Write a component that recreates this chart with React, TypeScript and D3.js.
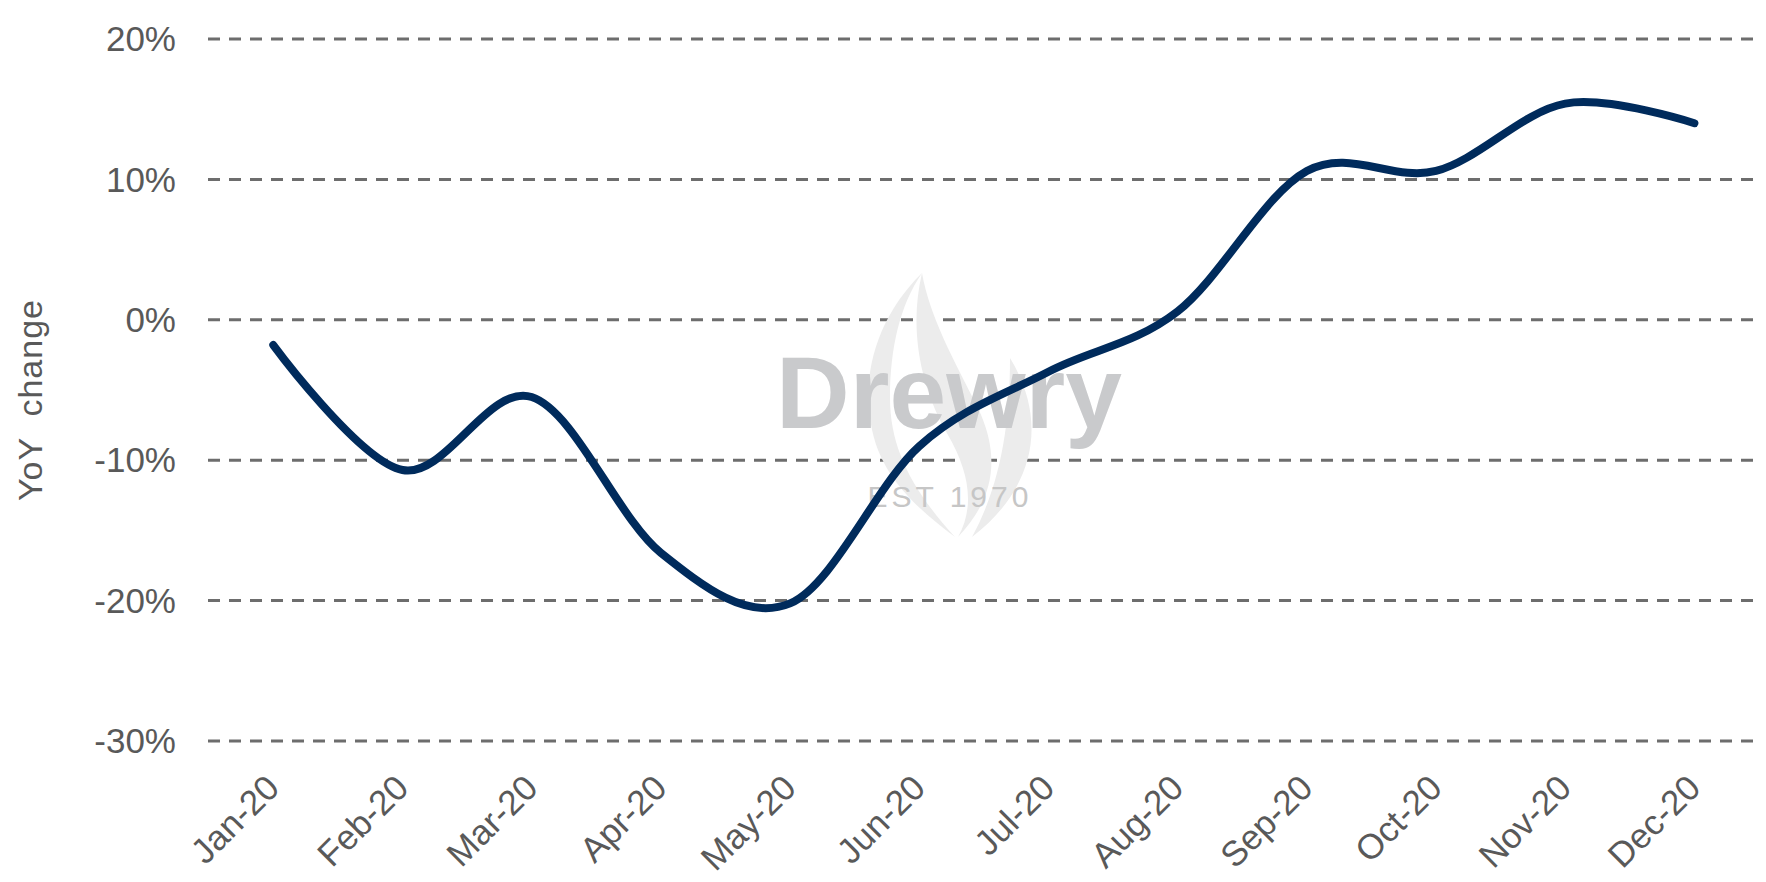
import { useMemo } from "react";
import * as d3 from "d3";

const months = [
  "Jan-20", "Feb-20", "Mar-20", "Apr-20", "May-20", "Jun-20",
  "Jul-20", "Aug-20", "Sep-20", "Oct-20", "Nov-20", "Dec-20",
];
const yoyChange = [-1.8, -10.7, -5.5, -16.6, -20.2, -9.0, -3.7, 0.6, 10.6, 10.6, 15.4, 14.0];
const yTicks = [20, 10, 0, -10, -20, -30];

const W = 1766;
const H = 882;
const TEXT = "#595959";
const GRID = "#6d6d6d";
const LINE = "#002B5C";
const FONT = "'Liberation Sans', Arial, sans-serif";

export default function App() {
  const x = useMemo(
    () => d3.scaleBand<string>().domain(months).range([208.7, 1759]),
    []
  );
  const y = useMemo(() => d3.scaleLinear().domain([-30, 20]).range([741, 39]), []);
  const cx = (m: string) => (x(m) ?? 0) + x.bandwidth() / 2;

  const path = d3
    .line<number>()
    .x((_, i) => cx(months[i]))
    .y((d) => y(d))
    .curve(d3.curveCardinal.tension(0))(yoyChange);

  return (
    <svg
      width={W}
      height={H}
      style={{ position: "absolute", left: 0, top: 0, background: "#fff" }}
      fontFamily={FONT}
    >
      {/* gridlines + y labels */}
      {yTicks.map((t) => (
        <g key={t}>
          <line
            x1={208}
            x2={1756}
            y1={y(t)}
            y2={y(t)}
            stroke={GRID}
            strokeWidth={3}
            strokeDasharray="12 9"
          />
          <text
            x={176}
            y={y(t)}
            dy="0.35em"
            textAnchor="end"
            fontSize={35}
            fill={TEXT}
          >
            {`${t}%`}
          </text>
        </g>
      ))}

      {/* watermark */}
      <g fill="#ececec">
        <path d="M922 273 C 872 322, 856 390, 878 450 C 892 486, 922 512, 955 537 C 912 490, 890 448, 890 398 C 890 348, 900 305, 922 273 Z" />
        <path d="M922 273 C 908 332, 922 390, 948 435 C 968 470, 976 505, 958 537 C 996 497, 1000 455, 978 408 C 954 360, 930 318, 922 273 Z" />
        <path d="M1010 358 C 1048 420, 1036 488, 972 537 C 1002 482, 1010 420, 1010 358 Z" />
      </g>
      <text
        x={949}
        y={428}
        textAnchor="middle"
        fontSize={102}
        fontWeight="bold"
        fill="#c9cacc"
      >
        Drewry
      </text>
      <text
        x={950}
        y={507}
        textAnchor="middle"
        fontSize={30}
        letterSpacing={4}
        fill="#c6c6c6"
      >
        EST 1970
      </text>

      {/* series */}
      <path
        d={path ?? ""}
        fill="none"
        stroke={LINE}
        strokeWidth={8}
        strokeLinecap="round"
        strokeLinejoin="round"
      />

      {/* x labels */}
      {months.map((m) => (
        <text
          key={m}
          transform={`translate(${cx(m) + 8},${790}) rotate(-45)`}
          textAnchor="end"
          fontSize={35}
          fill={TEXT}
        >
          {m}
        </text>
      ))}

      {/* y title */}
      <text
        transform="translate(42,400) rotate(-90)"
        textAnchor="middle"
        fontSize={34}
        letterSpacing={1}
        fill={TEXT}
        style={{ whiteSpace: "pre" }}
      >
        {"YoY  change"}
      </text>
    </svg>
  );
}
